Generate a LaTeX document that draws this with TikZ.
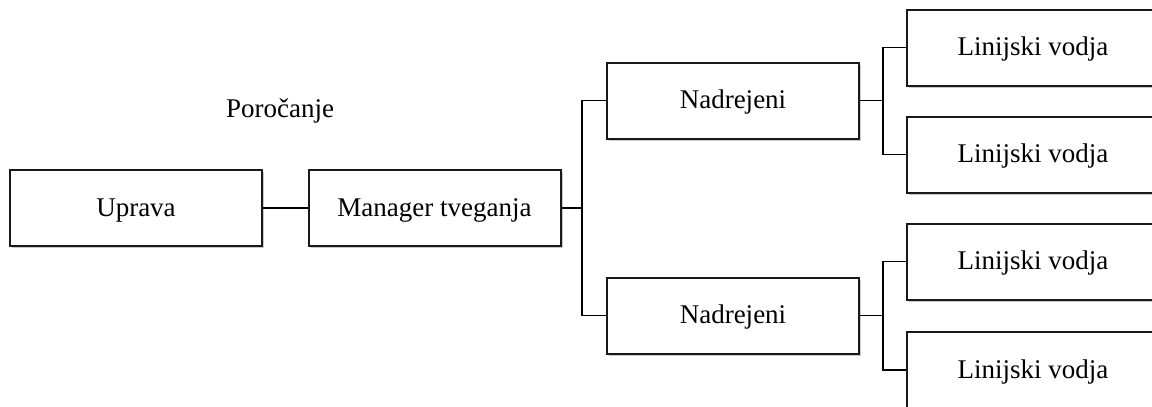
\documentclass[tikz,border=0pt]{standalone}
\usepackage{fontspec}
\setmainfont{Liberation Serif}
\usetikzlibrary{shadows}
\begin{document}
\begin{tikzpicture}[x=1pt,y=-1pt,
  box/.style={draw=black!90, line width=2pt, fill=white, minimum height=76pt,
    minimum width=252pt, inner sep=0pt, text height=22pt, text depth=6pt,
    font=\fontsize{27}{32}\selectfont,
    drop shadow={shadow xshift=2pt, shadow yshift=-2pt, fill=black!30, opacity=0.7}},
  conn/.style={draw=black, line width=1.7pt}]
\useasboundingbox (0,0) rectangle (1152,407);
\clip (0,0) rectangle (1152,407);
\node[box] (U) at (136,208) {Uprava};
\node[box] (M) at (434.5,208) {Manager tveganja};
\node[box] (N1) at (733,100.5) {Nadrejeni};
\node[box] (N2) at (733,315.5) {Nadrejeni};
\node[box] (L1) at (1033,47.5) {Linijski vodja};
\node[box] (L2) at (1033,154.5) {Linijski vodja};
\node[box] (L3) at (1033,261.5) {Linijski vodja};
\node[box] (L4) at (1033,370) {Linijski vodja};
\node[font=\fontsize{27}{32}\selectfont] (P) at (280,111) {Poročanje};
\coordinate (j1) at (582,208);
\coordinate (j2) at (883,100.5);
\coordinate (j3) at (883,315.5);
\draw[conn] (U.east) -- (M.west);
\draw[conn] (M.east) -- (j1);
\draw[conn] (N1.west) -| (j1) |- (N2.west);
\draw[conn] (N1.east) -- (j2);
\draw[conn] (L1.west) -| (j2) |- (L2.west);
\draw[conn] (N2.east) -- (j3);
\draw[conn] (L3.west) -| (j3) |- (L4.west);
\end{tikzpicture}
\end{document}
